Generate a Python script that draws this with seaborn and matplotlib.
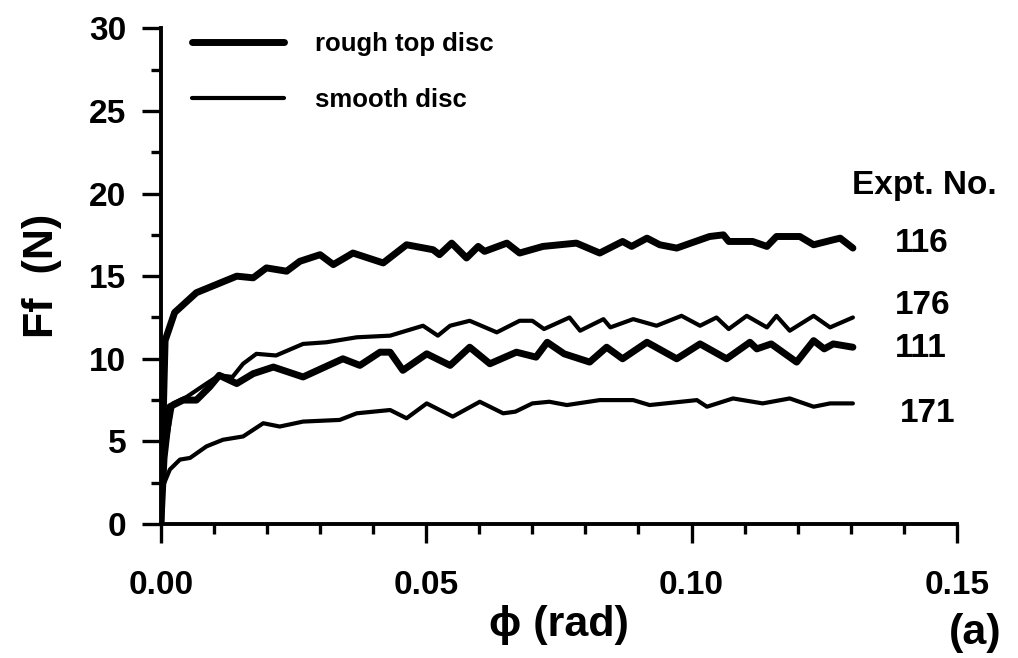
import numpy as np
import pandas as pd
import seaborn as sns
import matplotlib
matplotlib.use("Agg")
import matplotlib.pyplot as plt
from matplotlib.ticker import MultipleLocator, FormatStrFormatter

# Friction force vs. rotation angle for four experiments
phi_116 = [0, 0.0004, 0.0008, 0.0026, 0.0067, 0.0105, 0.0143, 0.0174, 0.0199, 0.0237,
           0.0262, 0.030, 0.0325, 0.0362, 0.0419, 0.0463, 0.0513, 0.0525, 0.0548, 0.0576,
           0.0598, 0.061, 0.0652, 0.0676, 0.072, 0.0783, 0.0827, 0.087, 0.0887, 0.0916,
           0.094, 0.0972, 0.1034, 0.106, 0.107, 0.1115, 0.1142, 0.116, 0.1204, 0.123,
           0.1267, 0.128, 0.1304]
ff_116 = [0, 6.0, 11.1, 12.8, 14.0, 14.5, 15.0, 14.9, 15.5, 15.3,
          15.9, 16.3, 15.7, 16.4, 15.8, 16.9, 16.6, 16.3, 17.0, 16.1,
          16.8, 16.5, 17.0, 16.4, 16.8, 17.0, 16.4, 17.1, 16.8, 17.3,
          16.9, 16.7, 17.4, 17.5, 17.1, 17.1, 16.8, 17.4, 17.4, 16.9,
          17.2, 17.3, 16.7]

phi_176 = [0, 0.0008, 0.0023, 0.0049, 0.0086, 0.011, 0.0135, 0.0155, 0.018, 0.0217,
           0.0268, 0.0312, 0.0369, 0.0432, 0.0494, 0.0522, 0.0545, 0.0582, 0.0633, 0.0676,
           0.0700, 0.0722, 0.077, 0.079, 0.0834, 0.0847, 0.089, 0.0934, 0.0981, 0.1016,
           0.1047, 0.107, 0.1104, 0.1142, 0.116, 0.1185, 0.123, 0.1261, 0.1304]
ff_176 = [0, 4.5, 7.3, 7.7, 8.5, 9.0, 8.9, 9.7, 10.3, 10.2,
          10.9, 11.0, 11.3, 11.4, 12.0, 11.4, 12.0, 12.3, 11.6, 12.3,
          12.3, 11.8, 12.5, 11.7, 12.4, 11.9, 12.4, 12.0, 12.6, 12.0,
          12.5, 11.8, 12.6, 11.9, 12.6, 11.7, 12.6, 11.9, 12.5]

phi_111 = [0, 0.0006, 0.0017, 0.0042, 0.0067, 0.0092, 0.011, 0.0143, 0.0174, 0.0212,
           0.0268, 0.0343, 0.0375, 0.0413, 0.0432, 0.0456, 0.0501, 0.0545, 0.0582, 0.062,
           0.067, 0.0707, 0.0728, 0.076, 0.0808, 0.084, 0.087, 0.0916, 0.0972, 0.1016,
           0.1066, 0.111, 0.1123, 0.115, 0.1198, 0.123, 0.125, 0.1267, 0.1304]
ff_111 = [0, 4.0, 7.1, 7.5, 7.5, 8.3, 9.0, 8.5, 9.1, 9.5,
          8.9, 10.0, 9.6, 10.4, 10.4, 9.3, 10.3, 9.6, 10.7, 9.7,
          10.4, 10.1, 11.0, 10.3, 9.8, 10.7, 10.0, 11.0, 10.0, 10.9,
          10.0, 11.0, 10.6, 10.9, 9.8, 11.1, 10.6, 10.9, 10.7]

phi_171 = [0, 0.0004, 0.0017, 0.0036, 0.0055, 0.0086, 0.0117, 0.0155, 0.0193, 0.0224,
           0.0268, 0.0337, 0.0369, 0.0432, 0.0463, 0.0501, 0.055, 0.0601, 0.0645, 0.0668,
           0.070, 0.0732, 0.0765, 0.0827, 0.089, 0.0921, 0.101, 0.1029, 0.1078, 0.1134,
           0.1185, 0.123, 0.1261, 0.1304]
ff_171 = [0, 2.3, 3.3, 3.9, 4.0, 4.7, 5.1, 5.3, 6.1, 5.9,
          6.2, 6.3, 6.7, 6.9, 6.4, 7.3, 6.5, 7.4, 6.7, 6.8,
          7.3, 7.4, 7.2, 7.5, 7.5, 7.2, 7.5, 7.1, 7.6, 7.3,
          7.6, 7.1, 7.3, 7.3]

expt_ids = ["116", "176", "111", "171"]
surfaces = ["rough top disc", "smooth disc", "rough top disc", "smooth disc"]
label_y = [17.0, 13.2, 10.6, 6.7]
label_x = [0.1383, 0.1383, 0.1383, 0.1392]

series = {"116": (phi_116, ff_116), "176": (phi_176, ff_176),
          "111": (phi_111, ff_111), "171": (phi_171, ff_171)}

frames = []
for eid, surf in zip(expt_ids, surfaces):
    p, f = series[eid]
    frames.append(pd.DataFrame({"phi": p, "Ff": f, "expt": eid, "surface": surf}))
df = pd.concat(frames, ignore_index=True)

sns.set_theme(style="ticks")
plt.rcParams["font.family"] = ["Liberation Sans", "DejaVu Sans"]
plt.rcParams["font.weight"] = "bold"
for key in ["text.color", "axes.labelcolor", "xtick.color", "ytick.color",
            "axes.edgecolor"]:
    plt.rcParams[key] = "black"

fig = plt.figure(figsize=(10.18, 6.58), dpi=100)
ax = fig.add_axes([0.158, 0.2036, 0.782, 0.7534])

sns.lineplot(data=df, x="phi", y="Ff", units="expt", estimator=None,
             size="surface", sizes={"rough top disc": 5.0, "smooth disc": 3.0},
             size_order=["rough top disc", "smooth disc"],
             color="black", ax=ax, legend=True, sort=False)
for ln in ax.get_lines():
    ln.set_solid_joinstyle("round")
    ln.set_solid_capstyle("round")

handles, labels = ax.get_legend_handles_labels()
pairs = [(h, l) for h, l in zip(handles, labels) if l in ("rough top disc", "smooth disc")]
for h, _ in pairs:
    h.set_color("black")
    h.set_solid_capstyle("round")
leg = ax.legend([h for h, _ in pairs], [l for _, l in pairs], loc="upper left",
                bbox_to_anchor=(0.01, 1.04), frameon=False, handlelength=3.6,
                handletextpad=1.2, labelspacing=1.25,
                prop={"size": 18.5, "weight": "bold"})

ax.set_xlim(0, 0.15)
ax.set_ylim(0, 30)
ax.xaxis.set_major_locator(MultipleLocator(0.05))
ax.xaxis.set_minor_locator(MultipleLocator(0.01))
ax.yaxis.set_major_locator(MultipleLocator(5))
ax.yaxis.set_minor_locator(MultipleLocator(2.5))
ax.xaxis.set_major_formatter(FormatStrFormatter("%.2f"))

for s in ["top", "right"]:
    ax.spines[s].set_visible(False)
for s in ["left", "bottom"]:
    ax.spines[s].set_linewidth(2.8)
    ax.spines[s].set_color("black")

ax.tick_params(axis="both", which="major", length=14, width=2.4, color="black",
               labelsize=24, labelcolor="black")
ax.tick_params(axis="both", which="minor", length=7.5, width=2.4, color="black")
ax.tick_params(axis="x", which="major", pad=19)
ax.tick_params(axis="y", which="major", pad=11)
for t in ax.get_xticklabels() + ax.get_yticklabels():
    t.set_fontweight("bold")

ax.set_xlabel("ϕ (rad)", fontsize=31, fontweight="bold", labelpad=3)
ax.set_ylabel("Ff  (N)", fontsize=31, fontweight="bold", labelpad=19)

ax.text(0.1302, 20.5, "Expt. No.", fontsize=24, fontweight="bold",
        ha="left", va="center", clip_on=False)
for eid, lx, ly in zip(expt_ids, label_x, label_y):
    ax.text(lx, ly, eid, fontsize=24, fontweight="bold", ha="left", va="center",
            clip_on=False)

fig.text(0.984, 0.008, "(a)", fontsize=31, fontweight="bold", ha="right", va="bottom")

fig.savefig("out.png", dpi=100, facecolor="white")
